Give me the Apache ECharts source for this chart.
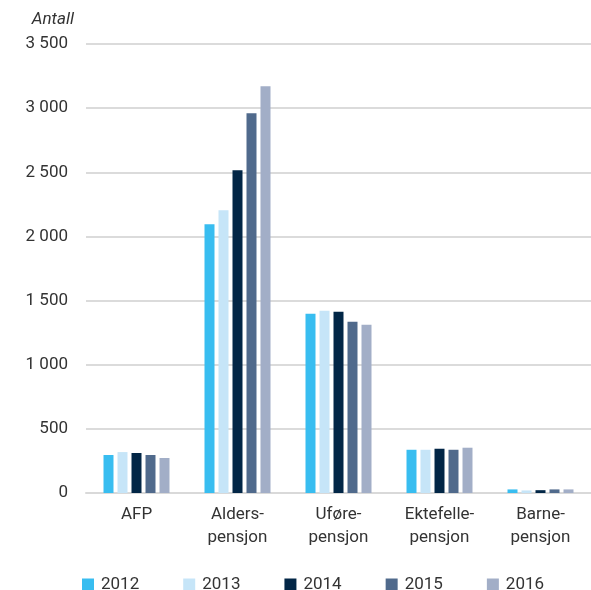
<!DOCTYPE html>
<html>
<head>
<meta charset="utf-8">
<script src="https://cdn.jsdelivr.net/npm/echarts@6/dist/echarts.min.js"></script>
<style>
  html, body { margin: 0; padding: 0; background: #fff; }
  #chart { width: 591px; height: 590px; }
</style>
</head>
<body>
<div id="chart"></div>
<script>
const categories = ['AFP', 'Alders-\npensjon', 'Uføre-\npensjon', 'Ektefelle-\npensjon', 'Barne-\npensjon'];
const years = ['2012', '2013', '2014', '2015', '2016'];
const v2012 = [296, 2095, 1397, 337, 28];
const v2013 = [319, 2205, 1420, 337, 20];
const v2014 = [312, 2516, 1413, 345, 22];
const v2015 = [296, 2960, 1334, 337, 28];
const v2016 = [273, 3170, 1311, 353, 28];
const colors = ['#38bdf0', '#c6e5f8', '#022646', '#506a8c', '#a2aec7'];

const chart = echarts.init(document.getElementById('chart'));
const font = 'Roboto, "Open Sans", sans-serif';

const option = {
    animation: false,
    textStyle: { fontFamily: font },
    grid: { left: 86, right: 0, top: 44, bottom: 97 },
    legend: {
        data: years,
        left: 77,
        top: 571,
        itemWidth: 12,
        itemHeight: 12,
        itemGap: 44,
        icon: 'rect',
        textStyle: { fontSize: 17, color: '#333', fontFamily: font, padding: [0, 0, 0, 2] }
    },
    xAxis: {
        type: 'category',
        data: categories,
        axisTick: { show: false },
        axisLine: { lineStyle: { color: '#d9d9d9', width: 2 } },
        axisLabel: { fontSize: 17, color: '#333', margin: 10, lineHeight: 23, interval: 0 }
    },
    yAxis: {
        type: 'value',
        min: 0,
        max: 3500,
        interval: 500,
        name: 'Antall',
        nameLocation: 'end',
        nameGap: 16,
        nameTextStyle: { fontStyle: 'italic', fontSize: 17, color: '#333', align: 'right', padding: [0, 12, 0, 0] },
        axisLine: { show: false },
        axisTick: { show: false },
        splitLine: { lineStyle: { color: '#cfcfcf', width: 1.5 } },
        axisLabel: {
            fontSize: 17,
            color: '#333',
            margin: 18,
            formatter: v => String(v).replace(/\B(?=(\d{3})+(?!\d))/g, ' ')
        }
    },
    series: [v2012, v2013, v2014, v2015, v2016].map((vals, i) => ({
        name: years[i],
        type: 'bar',
        data: vals,
        barWidth: 10,
        barGap: '40%',
        itemStyle: { color: colors[i] }
    }))
};

chart.setOption(option);
</script>
</body>
</html>
